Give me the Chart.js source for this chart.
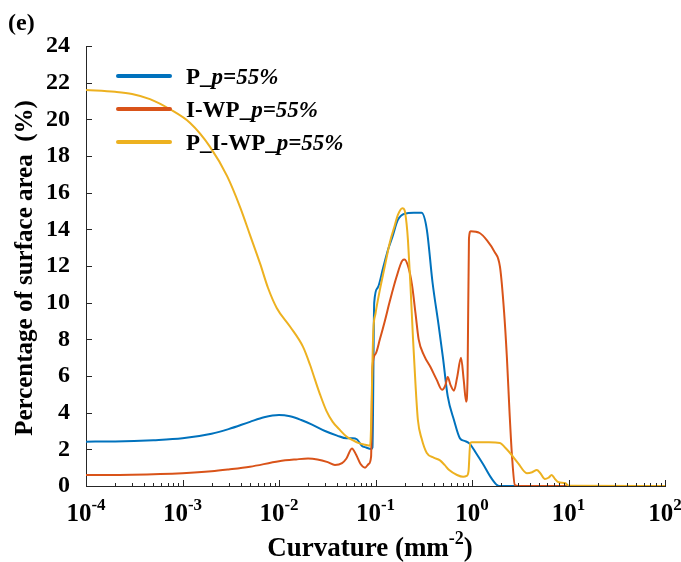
<!DOCTYPE html>
<html lang="en">
<head>
<meta charset="UTF-8" />
<title>Curvature distribution</title>
<script src="https://cdn.jsdelivr.net/npm/chart.js"></script>
<style>
  body { margin: 0; background: #fff; }
  #wrap { width: 681px; height: 562px; }
</style>
</head>
<body>
<div id="wrap"><canvas id="curv" width="681" height="562"></canvas></div>
<script>
// curvature (mm^-2) and % of surface area
const pX = [1e-4, 2e-4, 5e-4, 1e-3, 2e-3, 3e-3, 5e-3, 7e-3, 0.01, 0.013, 0.017, 0.022, 0.03, 0.04, 0.05, 0.058, 0.064, 0.072, 0.08, 0.09, 0.093, 0.097, 0.105, 0.12, 0.135, 0.15, 0.17, 0.2, 0.25, 0.3, 0.34, 0.39, 0.45, 0.5, 0.56, 0.65, 0.75, 0.85, 0.95, 1.1, 1.3, 1.6, 1.9, 3, 10, 100];
const pY = [2.42, 2.43, 2.5, 2.6, 2.85, 3.1, 3.5, 3.75, 3.87, 3.8, 3.6, 3.35, 3.0, 2.75, 2.6, 2.6, 2.55, 2.2, 2.1, 2.02, 2.1, 10.0, 10.8, 11.9, 12.9, 13.6, 14.5, 14.85, 14.9, 14.9, 14.0, 11.1, 8.8, 7.0, 4.9, 3.6, 2.6, 2.45, 2.3, 1.8, 1.2, 0.4, 0, 0, 0, 0];

const iwpX = [1e-4, 3e-4, 1e-3, 2e-3, 3e-3, 5e-3, 0.01, 0.015, 0.02, 0.025, 0.032, 0.038, 0.045, 0.05, 0.057, 0.063, 0.07, 0.078, 0.085, 0.09, 0.093, 0.1, 0.111, 0.125, 0.141, 0.165, 0.19, 0.2, 0.22, 0.24, 0.26, 0.28, 0.32, 0.37, 0.43, 0.49, 0.53, 0.56, 0.6, 0.65, 0.7, 0.77, 0.82, 0.87, 0.9, 0.93, 0.97, 1.2, 1.43, 1.7, 1.95, 2.15, 2.3, 2.45, 2.6, 2.78, 3, 10, 100];
const iwpY = [0.6, 0.62, 0.7, 0.8, 0.9, 1.05, 1.35, 1.45, 1.5, 1.45, 1.3, 1.15, 1.25, 1.5, 2.05, 1.7, 1.2, 1.0, 1.2, 1.6, 6.5, 7.2, 8.0, 9.0, 10.1, 11.4, 12.3, 12.35, 11.9, 10.9, 9.4, 8.0, 7.1, 6.5, 5.8, 5.25, 5.5, 5.95, 5.5, 5.2, 5.9, 7.0, 5.8, 4.6, 6.0, 13.5, 13.9, 13.8, 13.4, 12.8, 11.95, 9.5, 7.0, 4.0, 1.6, 0.05, 0, 0, 0];

const mixX = [1e-4, 2e-4, 3e-4, 4.6e-4, 7.4e-4, 1.2e-3, 1.93e-3, 2.9e-3, 3.96e-3, 5e-3, 6.4e-3, 7.7e-3, 9.5e-3, 0.013, 0.0177, 0.021, 0.0236, 0.0266, 0.031, 0.036, 0.042, 0.05, 0.058, 0.066, 0.078, 0.088, 0.095, 0.1, 0.111, 0.125, 0.141, 0.158, 0.171, 0.19, 0.2, 0.21, 0.217, 0.23, 0.245, 0.26, 0.275, 0.3, 0.34, 0.4, 0.466, 0.52, 0.58, 0.7, 0.81, 0.88, 0.92, 0.96, 1.0, 1.5, 1.95, 2.2, 2.48, 3.0, 3.7, 4.2, 4.7, 5.1, 5.7, 6.2, 6.7, 7.2, 7.8, 9.3, 10, 100];
const mixY = [21.6, 21.5, 21.38, 21.1, 20.55, 19.8, 18.5, 16.9, 15.2, 13.7, 12.1, 10.8, 9.7, 8.7, 7.6, 6.6, 5.8, 5.0, 4.1, 3.5, 3.1, 2.7, 2.5, 2.35, 2.25, 2.2, 8.5, 9.4, 10.7, 12.0, 13.3, 14.2, 14.8, 15.15, 15.05, 14.3, 13.4, 11.0, 8.0, 5.5, 3.6, 2.6, 1.8, 1.55, 1.4, 1.15, 0.87, 0.6, 0.5, 0.55, 0.8, 2.35, 2.38, 2.38, 2.35, 2.1, 1.8, 1.25, 0.7, 0.75, 0.87, 0.7, 0.38, 0.45, 0.6, 0.4, 0.22, 0.15, 0.02, 0];

const seriesNames = ['P_', 'I-WP_', 'P_I-WP_'];
const seriesColors = ['#0072BD', '#D95319', '#EDB120'];
const xTickExp = [-4, -3, -2, -1, 0, 1, 2];

const SERIF = "'Liberation Serif', 'DejaVu Serif', serif";

function pts(xs, ys) {
  return xs.map((x, i) => ({ x: x, y: ys[i] }));
}

// text made of runs with own font and vertical shift (for superscripts)
function drawRuns(ctx, runs, x, y, align) {
  let total = 0;
  runs.forEach(r => { ctx.font = r.font; r.w = ctx.measureText(r.t).width; total += r.w; });
  let cx = align === 'center' ? x - total / 2 : x;
  runs.forEach(r => {
    ctx.font = r.font;
    ctx.fillText(r.t, cx, y + (r.dy || 0));
    cx += r.w;
  });
}

const decor = {
  id: 'decor',
  afterDraw(chart) {
    const { ctx, chartArea: a, scales } = chart;
    const x = scales.x, y = scales.y;
    ctx.save();
    ctx.strokeStyle = '#262626';
    ctx.lineWidth = 1;
    ctx.beginPath();
    // y ticks, inward
    y.ticks.forEach(t => {
      const py = Math.round(y.getPixelForValue(t.value)) + 0.5;
      ctx.moveTo(a.left, py);
      ctx.lineTo(a.left + 6, py);
    });
    // x ticks, major and minor, inward
    xTickExp.forEach(e => {
      for (let k = 1; k <= 9; k++) {
        const v = k * Math.pow(10, e);
        if (v > 100.0001) break;
        const px = Math.round(x.getPixelForValue(v)) + 0.5;
        ctx.moveTo(px, a.bottom);
        ctx.lineTo(px, a.bottom - (k === 1 ? 6 : 3));
      }
    });
    ctx.stroke();

    ctx.fillStyle = '#000';
    ctx.textBaseline = 'alphabetic';
    // x tick labels 10^n
    xTickExp.forEach(e => {
      const px = x.getPixelForValue(Math.pow(10, e));
      drawRuns(ctx, [
        { t: '10', font: 'bold 25px ' + SERIF },
        { t: e < 0 ? '-' + Math.abs(e) : String(e), font: 'bold 17px ' + SERIF, dy: -11 }
      ], px, 521, 'center');
    });

    // axis titles
    drawRuns(ctx, [
      { t: 'Curvature (mm', font: 'bold 27px ' + SERIF },
      { t: '-2', font: 'bold 18px ' + SERIF, dy: -12 },
      { t: ')', font: 'bold 27px ' + SERIF }
    ], 370, 556, 'center');

    ctx.save();
    ctx.translate(32, 268);
    ctx.rotate(-Math.PI / 2);
    ctx.font = 'bold 25px ' + SERIF;
    ctx.textAlign = 'center';
    ctx.fillText('Percentage of surface area  (%)', 0, 0);
    ctx.restore();

    ctx.font = 'bold 24px ' + SERIF;
    ctx.textAlign = 'left';
    ctx.fillText('(e)', 8, 30);

    // legend
    const rows = [76, 109, 142];
    seriesNames.forEach((name, i) => {
      ctx.strokeStyle = seriesColors[i];
      ctx.lineWidth = 4;
      ctx.lineCap = 'round';
      ctx.beginPath();
      ctx.moveTo(118, rows[i]);
      ctx.lineTo(170, rows[i]);
      ctx.stroke();
      ctx.fillStyle = '#000';
      drawRuns(ctx, [
        { t: name, font: 'bold 23px ' + SERIF },
        { t: 'p=55%', font: 'italic bold 23px ' + SERIF }
      ], 186, rows[i] + 8, 'left');
    });
    ctx.restore();
  }
};

new Chart(document.getElementById('curv'), {
  type: 'line',
  data: {
    datasets: [
      { label: seriesNames[0] + 'p=55%', data: pts(pX, pY), borderColor: seriesColors[0], order: 2 },
      { label: seriesNames[1] + 'p=55%', data: pts(iwpX, iwpY), borderColor: seriesColors[1], order: 1 },
      { label: seriesNames[2] + 'p=55%', data: pts(mixX, mixY), borderColor: seriesColors[2], order: 0 }
    ]
  },
  options: {
    responsive: false,
    animation: false,
    layout: { padding: { top: 46, right: 16, left: 0, bottom: 0 } },
    elements: {
      point: { radius: 0 },
      line: { borderWidth: 2, cubicInterpolationMode: 'monotone', fill: false }
    },
    scales: {
      x: {
        type: 'logarithmic',
        min: 1e-4,
        max: 100,
        ticks: { display: false },
        grid: { display: false },
        border: { display: true, color: '#262626', width: 1 },
        afterFit: s => { s.height = 76; }
      },
      y: {
        type: 'linear',
        min: 0,
        max: 24,
        ticks: { stepSize: 2, color: '#000', padding: 8, font: { family: SERIF, size: 24, weight: 'bold' } },
        grid: { display: false },
        border: { display: true, color: '#262626', width: 1 },
        afterFit: s => { s.width = 86; }
      }
    },
    plugins: { legend: { display: false }, tooltip: { enabled: false } }
  },
  plugins: [decor]
});
</script>
</body>
</html>
